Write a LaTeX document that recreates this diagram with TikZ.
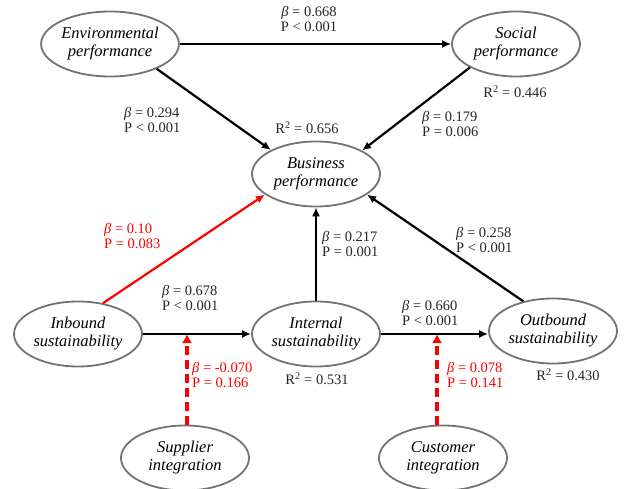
\documentclass[tikz,border=0pt]{standalone}
\usepackage{fontspec}
\setmainfont{Liberation Serif}
\usetikzlibrary{shapes.geometric,arrows.meta}

\begin{document}
\begin{tikzpicture}[x=1pt, y=-1pt,
	latent/.style={ellipse, draw=black!55, line width=1.8pt, inner sep=0pt,
		minimum width=128pt, minimum height=65pt, align=center,
		font=\fontsize{16.5}{18}\selectfont\itshape},
	path/.style={line width=2.2pt, -{Latex[length=9pt,width=8pt]}},
	ns/.style={path, red},
	mod/.style={red, line width=3.4pt, dash pattern=on 9pt off 5pt,
		-{Latex[length=9pt,width=10pt]}},
	coef/.style={align=left, anchor=west, inner sep=0pt, text=black!85,
		font=\fontsize{14.5}{15.5}\selectfont},
	rsq/.style={inner sep=0pt, text=black!85, font=\fontsize{14.5}{15.5}\selectfont}]
	\useasboundingbox (0,0) rectangle (624,489);
	% Konstrukte
	\node[latent] (env) at (110,44) {Environmental\\performance};
	\node[latent] (soc) at (516,44) {Social\\performance};
	\node[latent] (bus) at (316,174) {Business\\performance};
	\node[latent] (inb) at (78,334) {Inbound\\sustainability};
	\node[latent] (int) at (316,334) {Internal\\sustainability};
	\node[latent] (out) at (553,331) {Outbound\\sustainability};
	\node[latent] (sup) at (185,458) {Supplier\\integration};
	\node[latent] (cus) at (443,458) {Customer\\integration};

	% Pfade
	\draw[path] (env) -- (soc);
	\draw[path] (env.-28) -- (bus.152);
	\draw[path] (soc.207) -- (bus.27);
	\draw[ns] (inb.51) -- (bus.202);
	\draw[path] (int) -- (bus);
	\draw[path] (out.135) -- (bus.-22);
	\draw[path] (inb) -- (int);
	\draw[path] (int) -- (int -| out.west);
	% Moderatoren
	\coordinate (m1) at (187,334);
	\coordinate (m2) at (437,334);
	\draw[mod] (sup.north -| m1) -- (m1);
	\draw[mod] (cus.north -| m2) -- (m2);

	% Koeffizienten
	\node[coef, align=center, anchor=center] (c1) at (309,19) {\textit{β} = 0.668\\P < 0.001};
	\node[coef] (c2) at (124,120) {\textit{β} = 0.294\\P < 0.001};
	\node[coef] (c3) at (422,124) {\textit{β} = 0.179\\P = 0.006};
	\node[coef, text=red] (c4) at (104,236) {\textit{β} = 0.10\\P = 0.083};
	\node[coef] (c5) at (162,298) {\textit{β} = 0.678\\P < 0.001};
	\node[coef] (c6) at (322,244) {\textit{β} = 0.217\\P = 0.001};
	\node[coef] (c7) at (456,240) {\textit{β} = 0.258\\P < 0.001};
	\node[coef] (c8) at (402,313) {\textit{β} = 0.660\\P < 0.001};
	\node[coef, text=red] (c9) at (192,375) {\textit{β} = -0.070\\P = 0.166};
	\node[coef, text=red] (c10) at (447,375) {\textit{β} = 0.078\\P = 0.141};
	% R^2
	\node[rsq] (r1) at (515,92) {R\textsuperscript{2} = 0.446};
	\node[rsq] (r2) at (307,128) {R\textsuperscript{2} = 0.656};
	\node[rsq] (r3) at (317,379) {R\textsuperscript{2} = 0.531};
	\node[rsq] (r4) at (568,375) {R\textsuperscript{2} = 0.430};
\end{tikzpicture}
\end{document}
